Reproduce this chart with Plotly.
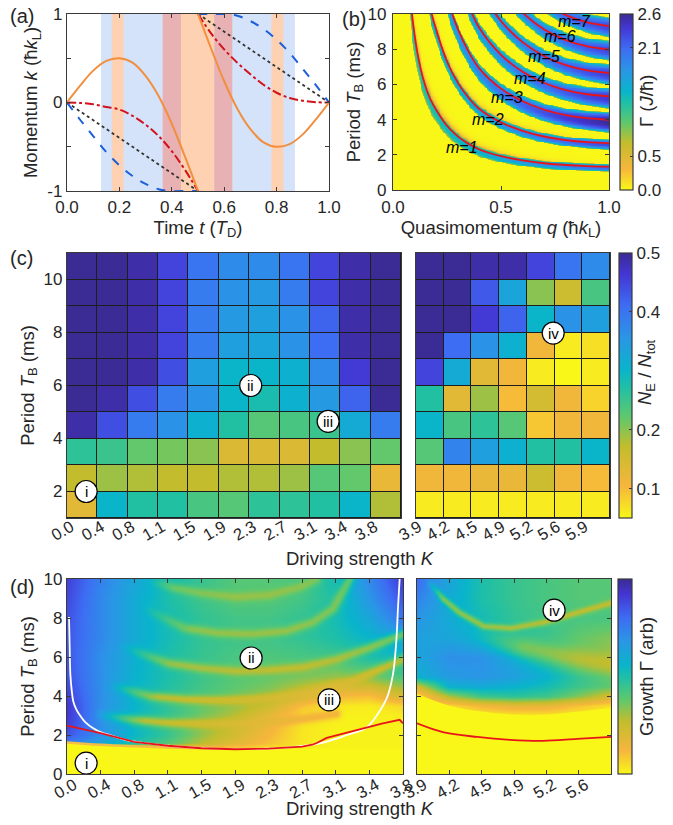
import numpy as np
import plotly.graph_objects as go

FONT = "'Liberation Sans', Arial, Helvetica, sans-serif"
TC = "#262626"
LC = "#3a3a3a"
W, H = 673, 825
TICK = 17
TITLE = 18.5

# ---------------- panel (a) data ----------------
a_t_first = [0.0, 0.05, 0.1, 0.15, 0.2, 0.25, 0.3, 0.35, 0.4, 0.45, 0.5]
a_t_second = [0.5, 0.55, 0.6, 0.65, 0.7, 0.75, 0.8, 0.85, 0.9, 0.95, 1.0]
a_orange_first = [0.0, 0.19, 0.36, 0.47, 0.50, 0.45, 0.30, 0.07, -0.24, -0.61, -1.0]
a_orange_second = [1.0, 0.61, 0.24, -0.07, -0.30, -0.45, -0.50, -0.47, -0.36, -0.19, 0.0]
a_blue_first = [0.0, -0.195, -0.38, -0.56, -0.71, -0.83, -0.92, -0.98, -1.0, -1.0, -1.0]
a_blue_second = [1.0, 1.0, 1.0, 0.98, 0.92, 0.83, 0.71, 0.56, 0.38, 0.195, 0.0]
a_red_first = [0.0, -0.005, -0.02, -0.05, -0.08, -0.15, -0.25, -0.38, -0.55, -0.76, -1.0]
a_red_second = [1.0, 0.78, 0.60, 0.45, 0.32, 0.20, 0.11, 0.05, 0.02, 0.004, 0.0]
a_black_t = [[0.0, 0.5], [0.5, 1.0]]
a_black_k = [[0.0, -1.0], [1.0, 0.0]]
a_band_lo = [0.13, 0.171, 0.365, 0.435, 0.562, 0.78]
a_band_hi = [0.87, 0.216, 0.435, 0.562, 0.631, 0.826]
a_band_color = ["#d4e3fa", "#fdd1b1", "#e8b1b3", "#fdd1b1", "#e8b1b3", "#fdd1b1"]

# ---------------- panel (b) data ----------------
b_q = [0.05, 0.075, 0.1, 0.125, 0.15, 0.175, 0.2, 0.25, 0.3, 0.35, 0.4, 0.5, 0.6, 0.7, 0.8, 0.9, 1.0]
b_T1 = [17.5, 11.7, 8.8, 7.05, 5.9, 5.1, 4.55, 3.65, 3.05, 2.62, 2.3, 1.92, 1.68, 1.52, 1.42, 1.36, 1.33]
b_m = [1, 2, 3, 4, 5, 6, 7]
b_center_shift = [0.05, 0.05, 0.1, 0.08, 0.06, 0.05, 0.05]
b_halfwidth = [0.17, 0.22, 0.45, 0.44, 0.44, 0.44, 0.44]
b_width_exp = [0.3, 0.5, 0.75, 0.8, 0.85, 0.85, 0.85]
b_peak = [2.1, 2.3, 2.6, 2.4, 2.35, 2.3, 2.3]
b_fringe = [0.5, 0.45, 0.0, 0.0, 0.0, 0.0, 0.0]
b_label_q = [0.32, 0.44, 0.53, 0.635, 0.70, 0.775, 0.84]
b_label_T = [2.44, 3.98, 5.28, 6.36, 7.56, 8.7, 9.6]

# ---------------- panel (c) data ----------------
c_left_K = ["0.0", "0.4", "0.8", "1.1", "1.5", "1.9", "2.3", "2.7", "3.1", "3.4", "3.8"]
c_right_K = ["3.9", "4.2", "4.5", "4.9", "5.2", "5.6", "5.9"]
c_T = [1.5, 2.5, 3.5, 4.5, 5.5, 6.5, 7.5, 8.5, 9.5, 10.5]
c_left_NE = [
    [0.13, 0.30, 0.27, 0.27, 0.24, 0.23, 0.26, 0.26, 0.27, 0.30, 0.18],
    [0.17, 0.19, 0.18, 0.17, 0.17, 0.18, 0.18, 0.19, 0.23, 0.22, 0.12],
    [0.26, 0.25, 0.22, 0.21, 0.20, 0.14, 0.14, 0.14, 0.17, 0.20, 0.22],
    [0.49, 0.44, 0.39, 0.36, 0.31, 0.27, 0.23, 0.24, 0.25, 0.32, 0.39],
    [0.50, 0.49, 0.44, 0.39, 0.36, 0.30, 0.28, 0.31, 0.35, 0.42, 0.50],
    [0.50, 0.50, 0.49, 0.44, 0.34, 0.30, 0.30, 0.31, 0.37, 0.46, 0.50],
    [0.50, 0.50, 0.49, 0.45, 0.39, 0.34, 0.33, 0.36, 0.41, 0.49, 0.50],
    [0.50, 0.50, 0.49, 0.45, 0.39, 0.35, 0.34, 0.36, 0.42, 0.49, 0.50],
    [0.50, 0.50, 0.49, 0.45, 0.39, 0.36, 0.35, 0.39, 0.45, 0.49, 0.50],
    [0.50, 0.50, 0.49, 0.45, 0.40, 0.37, 0.37, 0.40, 0.45, 0.49, 0.50],
]
c_right_NE = [
    [0.06, 0.06, 0.06, 0.06, 0.06, 0.06, 0.06],
    [0.11, 0.11, 0.12, 0.12, 0.16, 0.11, 0.10],
    [0.23, 0.38, 0.34, 0.31, 0.27, 0.27, 0.30],
    [0.30, 0.24, 0.26, 0.23, 0.09, 0.11, 0.11],
    [0.27, 0.13, 0.19, 0.10, 0.15, 0.11, 0.08],
    [0.45, 0.32, 0.13, 0.11, 0.06, 0.05, 0.06],
    [0.50, 0.41, 0.36, 0.31, 0.11, 0.06, 0.07],
    [0.50, 0.50, 0.46, 0.42, 0.30, 0.36, 0.34],
    [0.50, 0.50, 0.43, 0.33, 0.20, 0.16, 0.24],
    [0.50, 0.50, 0.49, 0.49, 0.45, 0.40, 0.37],
]
c_mark_left = dict(x=[0.13, 5.55, 8.1], y=[2.0, 6.0, 4.65], text=["i", "ii", "iii"])
c_mark_right = dict(x=[4.45], y=[7.98], text=["iv"])

# ---------------- panel (d) data ----------------
d_left_K = ["0.0", "0.4", "0.8", "1.1", "1.5", "1.9", "2.3", "2.7", "3.1", "3.4", "3.8"]
d_right_K = ["3.9", "4.2", "4.5", "4.9", "5.2", "5.6"]
d_left_T = [0, 1.2, 1.6, 2.0, 2.5, 3.0, 3.5, 4.0, 5.0, 6.0, 7.0, 8.0, 9.0, 10.0]
d_left_growth = [
    [0.0] * 11,
    [0.01] * 11,
    [0.75, 0.62, 0.50, 0.40, 0.28, 0.18, 0.10, 0.03, 0.01, 0.01, 0.01],
    [0.85, 0.70, 0.55, 0.45, 0.32, 0.22, 0.12, 0.03, 0.01, 0.01, 0.01],
    [0.90, 0.70, 0.55, 0.45, 0.34, 0.25, 0.14, 0.03, 0.01, 0.01, 0.01],
    [0.92, 0.70, 0.56, 0.46, 0.36, 0.28, 0.17, 0.04, 0.01, 0.01, 0.02],
    [0.92, 0.70, 0.56, 0.46, 0.38, 0.32, 0.24, 0.10, 0.03, 0.02, 0.06],
    [0.90, 0.70, 0.56, 0.48, 0.42, 0.37, 0.32, 0.22, 0.12, 0.10, 0.22],
    [0.86, 0.70, 0.57, 0.50, 0.44, 0.40, 0.38, 0.35, 0.32, 0.36, 0.42],
    [0.85, 0.70, 0.58, 0.50, 0.45, 0.42, 0.41, 0.42, 0.44, 0.50, 0.54],
    [0.85, 0.72, 0.60, 0.52, 0.46, 0.44, 0.44, 0.46, 0.50, 0.56, 0.64],
    [0.86, 0.72, 0.60, 0.52, 0.46, 0.43, 0.43, 0.46, 0.52, 0.62, 0.78],
    [0.88, 0.72, 0.60, 0.50, 0.44, 0.40, 0.40, 0.43, 0.50, 0.68, 0.86],
    [0.90, 0.74, 0.62, 0.52, 0.45, 0.40, 0.40, 0.42, 0.52, 0.72, 0.92],
]
d_right_T = [0, 2.5, 3.0, 3.5, 4.0, 4.5, 5.0, 6.0, 7.0, 8.0, 9.0, 10.0]
d_right_growth = [
    [0.0] * 7,
    [0.01] * 7,
    [0.01, 0.01, 0.02, 0.03, 0.03, 0.02, 0.01],
    [0.02, 0.05, 0.12, 0.16, 0.16, 0.09, 0.04],
    [0.04, 0.30, 0.44, 0.47, 0.44, 0.34, 0.22],
    [0.22, 0.58, 0.60, 0.57, 0.52, 0.44, 0.38],
    [0.58, 0.66, 0.68, 0.64, 0.57, 0.46, 0.40],
    [0.62, 0.70, 0.69, 0.62, 0.52, 0.38, 0.32],
    [0.64, 0.62, 0.57, 0.52, 0.46, 0.38, 0.34],
    [0.68, 0.60, 0.52, 0.46, 0.43, 0.42, 0.42],
    [0.74, 0.60, 0.50, 0.45, 0.42, 0.40, 0.40],
    [0.80, 0.62, 0.50, 0.45, 0.42, 0.40, 0.40],
]
d_left_stable_T = [1.62, 1.5, 1.42, 1.36, 1.33, 1.3, 1.3, 1.3, 1.3, 1.3, 1.3]
d_left_edge_K = [0, 1, 2, 3, 4, 5, 6]
d_left_edge_T = [1.62, 1.5, 1.42, 1.36, 1.33, 1.3, 1.3]
d_right_stable_T = [4.1, 3.5, 3.2, 3.05, 3.05, 3.2, 3.4]
# resonance arcs: K index, T, growth value on arc, width (px), strength, left-end fade length
d_left_arcs = [
    ([0.8, 2.0, 3.0, 4.0, 5.0, 6.0, 7.0, 8.0], [3.1, 2.8, 2.65, 2.6, 2.6, 2.7, 2.85, 3.1], 0.18, 3.5, 0.7, 1.5),
    ([1.2, 2.5, 3.5, 4.5, 5.5, 6.5, 7.5, 8.5, 9.3, 10.0], [4.6, 4.0, 3.85, 3.8, 3.85, 4.0, 4.3, 4.8, 5.4, 5.9], 0.18, 3.5, 0.68, 1.5),
    ([1.6, 3.0, 4.0, 5.0, 6.0, 7.0, 8.0, 9.0, 10.0], [6.6, 5.7, 5.45, 5.3, 5.35, 5.5, 5.9, 6.5, 7.2], 0.2, 3.5, 0.6, 1.5),
    ([2.2, 3.5, 4.5, 5.5, 6.5, 7.3, 7.9, 8.4], [8.6, 7.5, 7.25, 7.2, 7.35, 7.8, 8.5, 10.0], 0.22, 3.5, 0.55, 1.5),
    ([2.4, 3.2, 4.0, 5.0, 6.0, 6.9, 7.4], [10.0, 9.55, 9.3, 9.1, 9.2, 9.6, 10.0], 0.24, 3.5, 0.5, 0.8),
]
d_right_arcs = [
    ([0.3, 0.8, 1.3, 2.05, 2.9, 3.9, 4.95, 6.0], [10.0, 9.0, 8.3, 7.6, 7.5, 7.8, 8.3, 8.8], 0.2, 2.5, 0.65, 0.5),
    ([1.8, 3.0, 4.4, 5.6, 6.0], [7.1, 6.6, 6.1, 5.7, 5.6], 0.2, 8.0, 0.55, 1.5),
]
d_white_x = [0.06, 0.08, 0.1, 0.14, 0.19, 0.28, 0.39, 0.55, 0.78, 1.0, 1.27, 1.77, 2.4, 3.0, 4.0, 5.0,
             6.0, 6.7, 7.2, 7.6, 8.0, 8.33, 8.7, 8.93, 9.22, 9.52, 9.7, 9.8, 9.85, 9.9]
d_white_T = [8.05, 6.5, 5.1, 4.3, 3.7, 3.3, 3.0, 2.65, 2.35, 2.15, 2.0, 1.74, 1.57, 1.45, 1.33, 1.28,
             1.3, 1.38, 1.48, 1.6, 1.8, 2.0, 2.2, 2.4, 3.0, 3.9, 5.1, 6.8, 8.5, 10.0]
d_red_left_x = [0, 1, 2, 3, 4, 5, 6, 7, 7.3, 7.45, 7.73, 8.4, 8.9, 9.4, 9.9, 10.0]
d_red_left_T = [2.48, 2.1, 1.65, 1.45, 1.32, 1.27, 1.3, 1.4, 1.5, 1.6, 1.85, 2.15, 2.35, 2.6, 2.78, 2.6]
d_red_right_x = [0, 0.8, 1.86, 2.88, 3.9, 4.95, 6.0]
d_red_right_T = [2.6, 2.15, 1.9, 1.75, 1.7, 1.8, 1.9]
d_mark_left = dict(x=[0.57, 5.48, 7.8], y=[0.56, 5.95, 3.8], text=["i", "ii", "iii"])
d_mark_right = dict(x=[4.24], y=[8.4], text=["iv"])

CS = [[0.0, '#f8f718'], [0.12, '#f6b63c'], [0.27, '#c2bd2d'], [0.38, '#60c86c'],
      [0.49, '#21c0a4'], [0.56, '#09b4cb'], [0.68, '#2a96e6'], [0.8, '#3d6df3'],
      [0.92, '#4436d4'], [1.0, '#3b2b95']]

ORANGE = "#f28f3f"
BLUE = "#1c5fd8"
RED = "#d2121c"
RED2 = "#e8141c"


def fx(px):
    return px / W


def fy(py):
    return 1 - py / H


def bilinear(xs, ys, Z, xf, yf):
    Z = np.asarray(Z, float)
    tmp = np.array([np.interp(xf, xs, row) for row in Z])
    return np.array([np.interp(yf, ys, tmp[:, j]) for j in range(len(xf))]).T


def bake_arcs(Z, xg, yg, arcs, sx, sy):
    X, Y = np.meshgrid(xg, yg)
    for ax_, at_, zval, sig, st, fade in arcs:
        xs_d = np.linspace(ax_[0], ax_[-1], 260)
        ts_d = np.interp(xs_d, ax_, at_)
        fac = np.clip((xs_d - ax_[0]) / fade, 0, 1)
        wmax = np.zeros(X.shape)
        for px, pt, fi in zip(xs_d, ts_d, fac):
            w = fi * np.exp(-0.5 * (((X - px) * sx) ** 2 + ((Y - pt) * sy) ** 2) / sig ** 2)
            np.maximum(wmax, w, out=wmax)
        Z = Z + (zval - Z) * st * wmax
    return Z


fig = go.Figure()
annotations = []

# ---------------- (a) ----------------
for lo, hi, col in zip(a_band_lo, a_band_hi, a_band_color):
    fig.add_shape(type='rect', xref='x', yref='y', x0=lo, x1=hi, y0=-1, y1=1,
                  fillcolor=col, line_width=0, layer='below')
for tt, kk in zip(a_black_t, a_black_k):
    fig.add_trace(go.Scatter(x=tt, y=kk, mode='lines', xaxis='x', yaxis='y',
                             line=dict(color='#333333', width=1.8, dash='dot')))
for tt, kk in [(a_t_first, a_blue_first), (a_t_second, a_blue_second)]:
    fig.add_trace(go.Scatter(x=tt, y=kk, mode='lines', xaxis='x', yaxis='y',
                             line=dict(color=BLUE, width=2, dash='dash', shape='spline')))
for tt, kk in [(a_t_first, a_red_first), (a_t_second, a_red_second)]:
    fig.add_trace(go.Scatter(x=tt, y=kk, mode='lines', xaxis='x', yaxis='y',
                             line=dict(color=RED, width=2, dash='dashdot', shape='spline')))
for tt, kk in [(a_t_first, a_orange_first), (a_t_second, a_orange_second)]:
    fig.add_trace(go.Scatter(x=tt, y=kk, mode='lines', xaxis='x', yaxis='y',
                             line=dict(color=ORANGE, width=2, shape='spline')))

# ---------------- (b) ----------------
qf = np.linspace(0, 1, 240)
Tf = np.linspace(0, 10, 220)
invT1 = np.interp(qf, b_q, 1.0 / np.array(b_T1))
U = Tf[:, None] * invT1[None, :]
Zb = np.zeros_like(U)
for i, m in enumerate(b_m):
    s = np.clip(qf, 1e-3, 1) ** b_width_exp[i]
    h = b_halfwidth[i] * s
    c = m - b_center_shift[i]
    d = (U - c) / h[None, :]
    peak = b_peak[i] * (0.55 + 0.45 * qf)[None, :]
    inside = np.clip(1 - d ** 2, 0, None) ** 0.35 * peak
    fringe = np.where(d > 1, b_fringe[i] * (1 - qf)[None, :] * np.exp(-(d - 1) / 0.5), 0)
    Zb = np.maximum(Zb, np.maximum(inside, fringe))
fig.add_trace(go.Heatmap(x=qf, y=Tf, z=Zb, coloraxis='coloraxis', xaxis='x2', yaxis='y2',
                         zsmooth=False, hoverinfo='skip'))
bq = np.array(b_q)
bT1 = np.array(b_T1)
for m in b_m:
    yy = m * bT1
    mask = yy < 25
    fig.add_trace(go.Scatter(x=bq[mask], y=yy[mask], mode='lines', xaxis='x2', yaxis='y2',
                             line=dict(color=RED2, width=1.8, shape='spline')))
for m, qq, tt in zip(b_m, b_label_q, b_label_T):
    annotations.append(dict(text=f"<i>m={m}</i>", x=qq, y=tt, xref='x2', yref='y2', showarrow=False,
                            xanchor='center', yanchor='middle',
                            font=dict(size=16, color='black', family=FONT)))

# ---------------- (c) ----------------
for xr, yr in [('x3', 'y3'), ('x4', 'y4')]:
    fig.add_shape(type='rect', xref=f'{xr} domain', yref=f'{yr} domain', x0=0, x1=1, y0=0, y1=1,
                  fillcolor='#1e1e1e', line_width=0, layer='below')
fig.add_trace(go.Heatmap(x=list(range(len(c_left_K))), y=c_T, z=c_left_NE, coloraxis='coloraxis2',
                         xaxis='x3', yaxis='y3', xgap=1, ygap=1, hoverinfo='skip'))
fig.add_trace(go.Heatmap(x=list(range(len(c_right_K))), y=c_T, z=c_right_NE, coloraxis='coloraxis2',
                         xaxis='x4', yaxis='y4', xgap=1, ygap=1, hoverinfo='skip'))

# ---------------- (d) ----------------
xl = np.linspace(0, 10, 337)
yl = np.linspace(0, 10, 196)
Zl = bilinear(list(range(11)), d_left_T, d_left_growth, xl, yl)
Zl = bake_arcs(Zl, xl, yl, d_left_arcs, 33.6, 19.5)
fig.add_trace(go.Heatmap(x=xl, y=yl, z=Zl, coloraxis='coloraxis3', xaxis='x5', yaxis='y5',
                         zsmooth=False, hoverinfo='skip'))
xr_ = np.linspace(0, 6, 195)
Zr = bilinear(list(range(7)), d_right_T, d_right_growth, xr_, yl)
Zr = bake_arcs(Zr, xr_, yl, d_right_arcs, 32.3, 19.5)
fig.add_trace(go.Heatmap(x=xr_, y=yl, z=Zr, coloraxis='coloraxis3', xaxis='x6', yaxis='y6',
                         zsmooth=False, hoverinfo='skip'))

for (xs, ys, ax_x, ax_y) in [(list(range(11)), d_left_stable_T, 'x5', 'y5'),
                             (list(range(7)), d_right_stable_T, 'x6', 'y6')]:
    fig.add_trace(go.Scatter(x=xs, y=ys, mode='lines', fill='tozeroy', fillcolor='#f8f718',
                             xaxis=ax_x, yaxis=ax_y,
                             line=dict(color='#f8f718', width=0, shape='spline')))
fig.add_trace(go.Scatter(x=d_left_edge_K, y=d_left_edge_T, mode='lines', xaxis='x5', yaxis='y5',
                         line=dict(color='#f4bd45', width=2.5, shape='spline')))

fig.add_trace(go.Scatter(x=d_white_x, y=d_white_T, mode='lines', xaxis='x5', yaxis='y5',
                         line=dict(color='white', width=1.8, shape='spline')))
fig.add_trace(go.Scatter(x=d_red_left_x, y=d_red_left_T, mode='lines', xaxis='x5', yaxis='y5',
                         line=dict(color=RED2, width=1.8)))
fig.add_trace(go.Scatter(x=d_red_right_x, y=d_red_right_T, mode='lines', xaxis='x6', yaxis='y6',
                         line=dict(color=RED2, width=1.8, shape='spline')))

# circle markers with roman-numeral labels
for mk, ax_x, ax_y in [(c_mark_left, 'x3', 'y3'), (c_mark_right, 'x4', 'y4'),
                       (d_mark_left, 'x5', 'y5'), (d_mark_right, 'x6', 'y6')]:
    fig.add_trace(go.Scatter(x=mk['x'], y=mk['y'], mode='markers', xaxis=ax_x, yaxis=ax_y,
                             marker=dict(size=22, color='white', line=dict(color='black', width=1.2))))
    for xx, yy, tx in zip(mk['x'], mk['y'], mk['text']):
        annotations.append(dict(text=tx, x=xx, y=yy, xref=ax_x, yref=ax_y, showarrow=False,
                                xanchor='center', yanchor='middle',
                                font=dict(size=15, color='black', family=FONT)))


def axis(domain, rng, anchor, **kw):
    d = dict(domain=domain, range=rng, anchor=anchor, showline=True, linecolor=LC, linewidth=1.3,
             mirror='allticks', ticks='inside', ticklen=4, tickwidth=1, tickcolor=LC,
             showgrid=False, zeroline=False, automargin=False,
             tickfont=dict(size=TICK, color=TC, family=FONT))
    d.update(kw)
    return d


TITLE_FONT = dict(size=TITLE, color=TC, family=FONT)
PANEL_FONT = dict(size=20, color=TC, family=FONT)
CB_TICK = dict(size=TICK, color=TC, family=FONT)
ROT_TICK = dict(size=16.5, color=TC, family=FONT)


def cbar(x0, ybot, length, **kw):
    d = dict(x=fx(x0), xanchor='left', y=fy(ybot), yanchor='bottom', len=length / H,
             lenmode='fraction', thickness=13, xpad=0, ypad=0, outlinewidth=1.2,
             outlinecolor=LC, ticks='inside', ticklen=3, tickcolor=LC, tickfont=CB_TICK)
    d.update(kw)
    return d


def ann(text, x, y, font, **kw):
    d = dict(text=text, x=fx(x), y=fy(y), xref='paper', yref='paper', showarrow=False, font=font)
    d.update(kw)
    return d


annotations += [
    ann('(a)', 8, 3, PANEL_FONT, xanchor='left', yanchor='top'),
    ann('(b)', 340, 6, PANEL_FONT, xanchor='left', yanchor='top'),
    ann('(c)', 8, 245, PANEL_FONT, xanchor='left', yanchor='top'),
    ann('(d)', 8, 574, PANEL_FONT, xanchor='left', yanchor='top'),
    ann('Driving strength <i>K</i>', 360, 558, TITLE_FONT, xanchor='center', yanchor='middle'),
    ann('Driving strength <i>K</i>', 360, 808, TITLE_FONT, xanchor='center', yanchor='middle'),
    ann('Γ (<i>J</i>/ħ)', 646, 101, TITLE_FONT, xanchor='center', yanchor='middle', textangle=-90),
    ann('<i>N</i><sub>E</sub> / <i>N</i><sub>tot</sub>', 646, 372, TITLE_FONT,
        xanchor='center', yanchor='middle', textangle=-90),
    ann('Growth Γ (arb)', 646, 677, TITLE_FONT, xanchor='center', yanchor='middle', textangle=-90),
]

layout = dict(
    width=W, height=H, margin=dict(l=0, r=0, t=0, b=0),
    paper_bgcolor='white', plot_bgcolor='white', showlegend=False,
    font=dict(family=FONT, color=TC),
    xaxis=axis([fx(67), fx(329)], [0, 1], 'y', tickvals=[0, 0.2, 0.4, 0.6, 0.8, 1.0],
               ticktext=['0.0', '0.2', '0.4', '0.6', '0.8', '1.0'],
               title=dict(text='Time <i>t</i> (<i>T</i><sub>D</sub>)', font=TITLE_FONT, standoff=4)),
    yaxis=axis([fy(191), fy(14)], [-1, 1], 'x', tickvals=[-1, 0, 1], ticktext=['-1', '0', '1'],
               minor=dict(tickvals=[-0.5, 0.5], ticks='inside', ticklen=4, tickcolor=LC, showgrid=False),
               title=dict(text='Momentum <i>k</i> (ħ<i>k</i><sub>L</sub>)', font=TITLE_FONT, standoff=4)),
    xaxis2=axis([fx(393), fx(609)], [0, 1], 'y2', tickvals=[0, 0.5, 1.0],
                ticktext=['0.0', '0.5', '1.0'], layer='above traces', ticklabelstandoff=1,
                title=dict(text='Quasimomentum <i>q</i> (ħ<i>k</i><sub>L</sub>)', font=TITLE_FONT, standoff=3)),
    yaxis2=axis([fy(190), fy(14)], [0, 10], 'x2', tickvals=[0, 2, 4, 6, 8, 10], layer='above traces',
                ticklabelstandoff=2,
                title=dict(text='Period <i>T</i><sub>B</sub> (ms)', font=TITLE_FONT, standoff=2)),
    xaxis3=axis([fx(67), fx(401)], [-0.5, len(c_left_K) - 0.5], 'y3', ticks='', mirror=True,
                tickvals=list(range(len(c_left_K))), ticktext=c_left_K, tickangle=-30,
                tickfont=ROT_TICK, ticklabelshift=-11, ticklabelstandoff=-8),
    yaxis3=axis([fy(518), fy(253)], [1, 11], 'x3', ticks='', mirror=True, tickvals=[2, 4, 6, 8, 10],
                title=dict(text='Period <i>T</i><sub>B</sub> (ms)', font=TITLE_FONT, standoff=4)),
    xaxis4=axis([fx(416), fx(610)], [-0.5, len(c_right_K) - 0.5], 'y4', ticks='', mirror=True,
                tickvals=list(range(len(c_right_K))), ticktext=c_right_K, tickangle=-30,
                tickfont=ROT_TICK, ticklabelshift=-11, ticklabelstandoff=-8),
    yaxis4=axis([fy(518), fy(253)], [1, 11], 'x4', ticks='', mirror=True, showticklabels=False),
    xaxis5=axis([fx(67), fx(403)], [0, 10], 'y5', tickvals=list(range(11)), ticktext=d_left_K,
                tickangle=-30, layer='above traces', tickfont=ROT_TICK,
                ticklabelshift=7, ticklabelstandoff=-6),
    yaxis5=axis([fy(774), fy(579)], [0, 10], 'x5', tickvals=[0, 2, 4, 6, 8, 10], layer='above traces',
                title=dict(text='Period <i>T</i><sub>B</sub> (ms)', font=TITLE_FONT, standoff=4)),
    xaxis6=axis([fx(417), fx(611)], [0, 6], 'y6', tickvals=list(range(6)), ticktext=d_right_K,
                tickangle=-30, layer='above traces', tickfont=ROT_TICK,
                ticklabelshift=7, ticklabelstandoff=-6),
    yaxis6=axis([fy(774), fy(579)], [0, 10], 'x6', tickvals=[0, 2, 4, 6, 8, 10], showticklabels=False,
                layer='above traces'),
    coloraxis=dict(colorscale=CS, cmin=0, cmax=2.6,
                   colorbar=cbar(620, 190, 176, tickvals=[0, 0.5, 2.1, 2.6],
                                 ticktext=['0.0', '0.5', '2.1', '2.6'])),
    coloraxis2=dict(colorscale=CS, cmin=0.05, cmax=0.5,
                    colorbar=cbar(619, 518, 265, tickvals=[0.1, 0.2, 0.4, 0.5],
                                  ticktext=['0.1', '0.2', '0.4', '0.5'])),
    coloraxis3=dict(colorscale=CS, cmin=0, cmax=1,
                    colorbar=cbar(618, 774, 195, thickness=14, ticks='', showticklabels=False)),
    annotations=annotations,
)
fig.update_layout(**layout)
fig.write_html("out.html", config={'displayModeBar': False},
               post_script="document.body.style.margin='0px';document.body.style.overflow='hidden';")
